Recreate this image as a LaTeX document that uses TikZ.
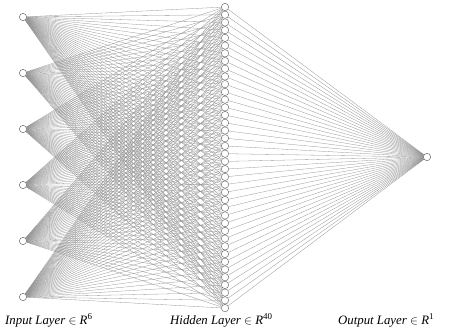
\documentclass[tikz,border=0pt]{standalone}
\usepackage{fontspec}
\setmainfont{Liberation Serif}
\usetikzlibrary{backgrounds}
\newcommand{\layerlab}[2]{\textit{#1}~$\in$~\textit{R}$^{\mathrm{#2}}$}
\begin{document}
\begin{tikzpicture}[x=1pt,y=-1pt,
  neuron/.style={circle,draw=black!55,fill=white,line width=0.5pt,minimum size=7.4pt,inner sep=0pt},
  edge/.style={draw=black!42,line width=0.3pt},
  lab/.style={font=\fontsize{12.8}{15}\selectfont,anchor=base west,inner sep=0pt}]
\useasboundingbox (0,0) rectangle (453,335);
\foreach \i in {1,...,6} \node[neuron] (i\i) at (23,{17+56*(\i-1)}) {};
\foreach \j in {1,...,40} \node[neuron] (h\j) at (225,{7+7.72*(\j-1)}) {};
\node[neuron] (o) at (427,157) {};
\begin{scope}[on background layer]
\foreach \i in {1,...,6}
  \foreach \j in {1,...,40}
    \draw[edge] (i\i) -- (h\j);
\foreach \j in {1,...,40}
  \draw[edge] (h\j) -- (o);
\end{scope}
\node[lab] (l1) at (5,324) {\layerlab{Input Layer}{6}};
\node[lab] (l2) at (170,324) {\layerlab{Hidden Layer}{40}};
\node[lab] (l3) at (338,324) {\layerlab{Output Layer}{1}};
\end{tikzpicture}
\end{document}
